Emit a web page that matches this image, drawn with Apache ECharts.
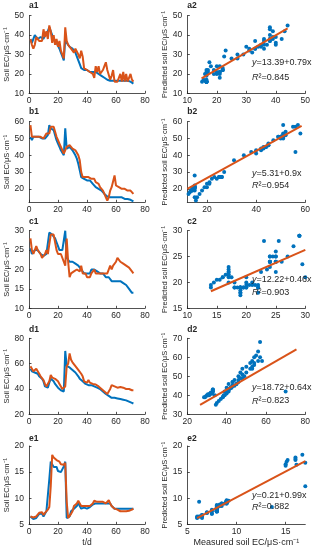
<!DOCTYPE html>
<html><head><meta charset="utf-8">
<script src="https://cdn.jsdelivr.net/npm/echarts@6/dist/echarts.min.js"></script>
<style>html,body{margin:0;padding:0;background:#fff}#c{width:321px;height:550px}</style>
</head><body><div id="c"></div>
<script>
// ---------------- DATA ----------------
const days = [1,2,3,4,5,6,7,8,9,10,11,12,13,14,15,16,17,18,19,20,21,22,23,24,25,26,27,28,29,30,31,32,33,34,35,36,37,38,39,40,41,42,43,44,45,46,47,48,49,50,51,52,53,54,55,56,57,58,59,60,61,62,63,64,65,66,67,68,69,70,71,72];

const a1Measured = [38,36,36,40,39,38,38,39,38,38,40,39,42,44,43,40,38,37,36,35,33,31,29,27,38,36,35,34,33,33,32,31,30,27,25,23,22.5,22,22,22,22,21,21,21,21,21,20,20,20,19,19,18,17.5,17,17,16.5,16.5,16.5,16.5,16.5,16.5,16.5,16.5,16.5,16.5,16.5,16.5,16.5,16.5,16,15.5,15];
const a1Predicted = [38,35,33,35,39,38,37,38,37,43,39,42,38,45,42,36,40,35,38,34,37,32,30,28,44,37,35,34,33,33,31,33,34,30,28,32,29,23,22,22,22,21,21,20,18,24,21,24,20,20,22,24,26,22,21,17,19,22,16,16,16,16,20,16,21,16,20,16,16,20,17,16];

const b1Measured = [51,49,51,51,51,51,51,50,50,50,50,51,52,58,56,57,55,52,49,47,45,43,42,40,56,44,45,45,44,43,42,40,38,35,31,27,26,26,26,25,25,25,24,23,22,21,21,20,20,19,18,17,16,15.5,15,15,15,15,15,15,15,15,15,15,14.5,14,14,14,13.5,13.5,13,12.5];
const b1Predicted = [58,51,50,51,52,51,52,51,51,50,51,53,52,53,57,58,57,54,51,49,47,45,43,41,42,45,46,46,45,44,44,43,42,40,37,30,27,27,27,27,27,27,26,27,26,24,23,23,21,21,19,17,15,13,15,19,21,21,28,22,21,21,21,20,20,20,19,19,19,19,18,17];

const c1Measured = [25.5,24,24,25,25,25,24.5,24,24,23.5,24,24,24,29.5,29,29,29,28,27,26,25,25,25,25,30,23,22.5,22,22,22,22,21.5,21,21,20.5,20,19.5,19,19,19,19,19,20,20,20,20,19.5,19,19,19,19,18.5,18,18,18,17.5,17,17,17,17,17,17,17,17,16.5,16,16,15.5,15,14.5,14,14];
const c1Predicted = [28,25,24,25,26,25,25,24,23,22.5,24,25,24,23.5,29,29,29,27,25,24,24,24,24,22,21,28,22,18,19,19,19.5,19.5,20,19.5,19.5,21,19,19,19,18,17.5,18,19,19.5,20,19,19,19,19,19,18.5,19,19,19,20,21,20,21,21.5,22,23,22.5,22,21.5,21.5,21,21,20.5,20.5,20,19.5,19];

const d1Measured = [56,54,53,53,54,52,50,49,48,46,42,41,41,45,48,47,46,44,43,41,40,39,38.5,38,70,58,57,57,56,55,54,53,52,50,48,47,46,45,44,43,43,43,43,42.5,42,41.5,41,40.5,40,39,38,37,36,35,34.5,34,33,33,33,33,32.5,32.5,32,32,31.5,31,31,30.5,30,29.5,29,28.5];
const d1Predicted = [58,57,54,55,56,54,52,50,49,47,44,42,43,46,51,49,48,48,47,46,44,42,40,39,42,58,60,68,63,61,60,58,57,55,54,52,50,46,45,45,47,45,45,44,44,43.5,43,42,41,40,39,38,37,36,35,40,43,43,42,42,41,41,41.5,41,41,40,40,40.5,40,39.5,39,39];

const e1Measured = [6.5,6.3,6,6,6.2,6.5,7,7,7,6.5,7,7.5,7.5,13.6,17,16.7,16,16,16,15.2,15.1,15,15,16.1,17,6.2,6,6.5,7.5,7.5,8,8.3,8.5,9.2,8.5,8,8,8.2,8,8,8.1,8.3,8.5,8.8,9,9,9,9,9,9,9,9,9,9,9,9,8.5,8.3,8,8,8,8,8,8,8,8,8,8,8,8,8,8];
const e1Predicted = [6.5,6.5,6.3,6.5,6.5,6.8,7.2,7.2,7.3,6.8,7.2,7,7.8,8.3,12.3,18.3,17.8,17.5,17.3,17.3,17,16.5,16.2,16.4,16.8,9.3,6.2,6.2,7,7.5,8.5,8.6,9,9.5,9,8.5,8.2,8.5,8.7,8.5,8.3,8.5,8.8,9,9.5,9.4,9.3,9.3,9.3,9.4,9.3,9.2,9,9.2,9.6,9,8.5,8.8,8,8,7.8,7.6,7.5,7.4,7.5,7.6,7.5,7.6,7.6,7.7,7.8,8];

// fitted lines (end points)
const a2FitX = [14.85, 44];  const a2FitY = [17.7, 43.5];
const b2FitX = [12, 58.5];   const b2FitY = [20, 57.5];
const c2FitX = [14, 30];     const c2FitY = [18.3, 26.3];
const d2FitX = [26.5, 75.5]; const d2FitY = [35, 64.2];
const e2FitX = [6, 17];      const e2FitY = [6.2, 17.1];

const equations = [
  ['{i|y}=13.39+0.79x', '{i|R}²=0.845'],
  ['{i|y}=5.31+0.9x',   '{i|R}²=0.954'],
  ['{i|y}=12.22+0.46x', '{i|R}²=0.903'],
  ['{i|y}=18.72+0.64x', '{i|R}²=0.823'],
  ['{i|y}=0.21+0.99x',  '{i|R}²=0.882']
];
const panelLetters = ['a','b','c','d','e'];

// axis ranges & ticks
const tTicks = [0,20,40,60,80];
const lineYRange = [[10,50],[12,60],[10,30],[20,80],[5,20]];
const lineYTicks = [[10,20,30,40,50],[20,30,40,50,60],[10,15,20,25,30],[20,40,60,80],[5,10,15,20]];
const scatXRange = [[10,50],[12,60],[10,30],[20,80],[5,17]];
const scatXTicks = [[10,20,30,40,50],[20,40,60],[10,15,20,25,30],[20,40,60,80],[5,10,15]];
const scatYRange = [[10,50],[12,60],[15,30],[30,70],[5,20]];
const scatYTicks = [[10,20,30,40,50],[20,30,40,50,60],[15,20,25,30],[30,40,50,60,70],[5,10,15,20]];

const yNameLeft = 'Soil EC/μS·cm⁻¹';
const yNameRight = 'Predicted soil EC/μS·cm⁻¹';
const xNameLeft = 't/d';
const xNameRight = 'Measured soil EC/μS·cm⁻¹';

// ---------------- LAYOUT ----------------
const measured = [a1Measured,b1Measured,c1Measured,d1Measured,e1Measured];
const predicted = [a1Predicted,b1Predicted,c1Predicted,d1Predicted,e1Predicted];
const fits = [[a2FitX,a2FitY],[b2FitX,b2FitY],[c2FitX,c2FitY],[d2FitX,d2FitY],[e2FitX,e2FitY]];

const BLUE = '#0072BD', ORANGE = '#D95319', AX = '#262626';
const FONT = '"Liberation Sans", Arial, Helvetica, sans-serif';
const rows = [
  {top:15.7, h:77.6, lab:6.3, eq1:62.5, eq2:77.5},
  {top:121.7, h:80.6, lab:111.7, eq1:173.5, eq2:185.5},
  {top:230.7, h:77.6, lab:222.5, eq1:279.7, eq2:292.7},
  {top:338.3, h:76, lab:330.5, eq1:387.8, eq2:401},
  {top:446, h:78.3, lab:439.5, eq1:495.7, eq2:507}
];
const col1 = {left:29, w:116}, col2 = {left:187.3, w:118};

function axis(min, max, ticks, isY, extra) {
  return Object.assign({
    type:'value', min:min, max:max,
    axisLine:{show:true, onZero:false, lineStyle:{color:AX, width:0.8}},
    axisTick:{show:true, inside:true, length:2.5, customValues:ticks, lineStyle:{color:AX, width:0.8}},
    axisLabel:{customValues:ticks, fontSize:8.5, color:AX, fontFamily:FONT, margin:isY?5:3},
    splitLine:{show:false}
  }, extra||{});
}

const grid=[], xAxis=[], yAxis=[], series=[], graphic=[];
for (let r=0;r<5;r++){
  const R = rows[r];
  // left: time series
  let gi = grid.length;
  grid.push({left:col1.left, top:R.top, width:col1.w, height:R.h});
  xAxis.push(axis(0,80,tTicks,false, r===4?{name:xNameLeft,nameLocation:'middle',nameGap:14,nameTextStyle:{fontSize:8.5,color:AX,fontFamily:FONT}}:{} ));
  xAxis[gi].gridIndex=gi;
  yAxis.push(axis(lineYRange[r][0],lineYRange[r][1],lineYTicks[r],true,{gridIndex:gi,name:yNameLeft,nameLocation:'middle',nameRotate:90,nameGap:17,nameTextStyle:{fontSize:7.5,color:AX,fontFamily:FONT}}));
  series.push({type:'line',xAxisIndex:gi,yAxisIndex:gi,data:days.map((d,i)=>[d,measured[r][i]]),showSymbol:false,lineStyle:{color:BLUE,width:2},itemStyle:{color:BLUE},z:2,animation:false});
  series.push({type:'line',xAxisIndex:gi,yAxisIndex:gi,data:days.map((d,i)=>[d,predicted[r][i]]),showSymbol:false,lineStyle:{color:ORANGE,width:2},itemStyle:{color:ORANGE},z:3,animation:false});
  graphic.push({type:'text',left:col1.left,top:R.lab-5,style:{text:panelLetters[r]+'1',font:'bold 8.5px '+FONT,fill:AX}});
  // right: scatter
  gi = grid.length;
  grid.push({left:col2.left, top:R.top, width:col2.w, height:R.h});
  xAxis.push(axis(scatXRange[r][0],scatXRange[r][1],scatXTicks[r],false, r===4?{name:xNameRight,nameLocation:'middle',nameGap:14,nameTextStyle:{fontSize:9,color:AX,fontFamily:FONT}}:{} ));
  xAxis[gi].gridIndex=gi;
  yAxis.push(axis(scatYRange[r][0],scatYRange[r][1],scatYTicks[r],true,{gridIndex:gi,name:yNameRight,nameLocation:'middle',nameRotate:90,nameGap:16.5,nameTextStyle:{fontSize:7.5,color:AX,fontFamily:FONT}}));
  series.push({type:'scatter',xAxisIndex:gi,yAxisIndex:gi,data:days.map((d,i)=>[measured[r][i],predicted[r][i]]),symbolSize:4,itemStyle:{color:BLUE,opacity:1},z:2,animation:false});
  series.push({type:'line',xAxisIndex:gi,yAxisIndex:gi,data:fits[r][0].map((x,i)=>[x,fits[r][1][i]]),showSymbol:false,lineStyle:{color:ORANGE,width:2},z:3,animation:false});
  graphic.push({type:'text',left:col2.left,top:R.lab-5,style:{text:panelLetters[r]+'2',font:'bold 8.5px '+FONT,fill:AX}});
  graphic.push({type:'text',x:252,y:R.eq1,style:{text:equations[r][0],fontSize:9,fontFamily:FONT,fill:AX,verticalAlign:'middle',rich:{i:{fontStyle:'italic',fontSize:9,fontFamily:FONT,fill:AX}}},z:10});
  graphic.push({type:'text',x:252,y:R.eq2,style:{text:equations[r][1],fontSize:9,fontFamily:FONT,fill:AX,verticalAlign:'middle',rich:{i:{fontStyle:'italic',fontSize:9,fontFamily:FONT,fill:AX}}},z:10});
}

const chart = echarts.init(document.getElementById('c'), null, {renderer:'canvas'});
chart.setOption({animation:false, backgroundColor:'#fff', grid, xAxis, yAxis, series, graphic});
</script>
</body></html>
